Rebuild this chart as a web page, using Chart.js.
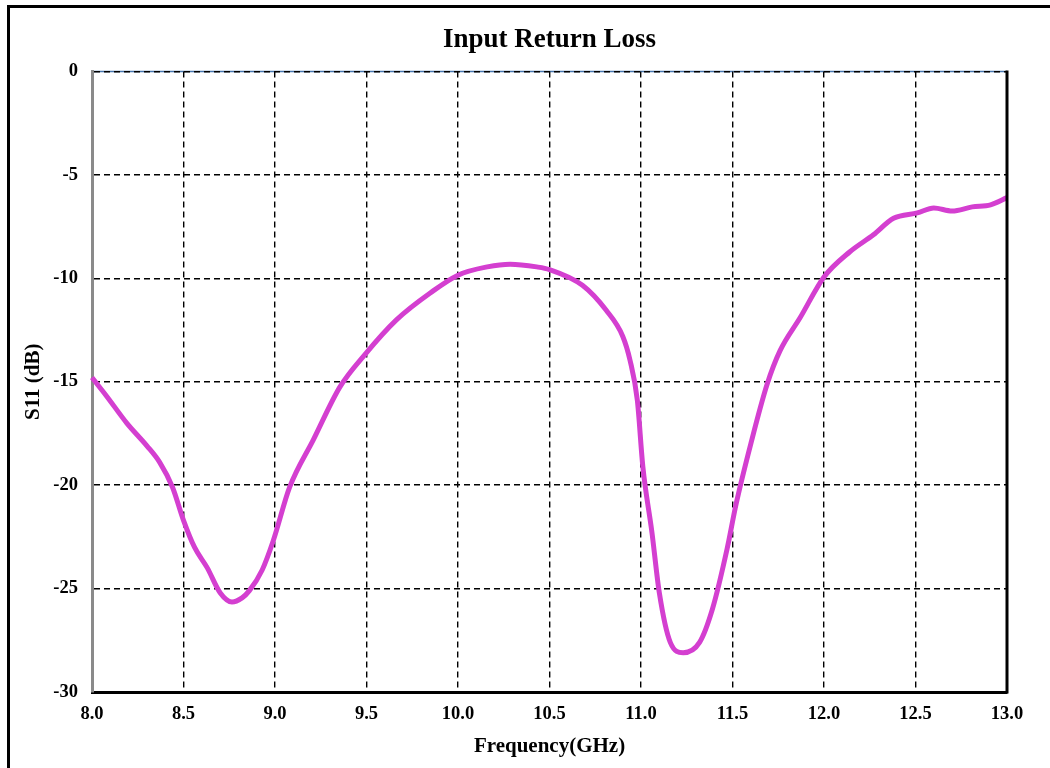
<!DOCTYPE html>
<html>
<head>
<meta charset="utf-8">
<script src="https://cdn.jsdelivr.net/npm/chart.js@4/dist/chart.umd.min.js"></script>
<style>
  html, body { margin: 0; padding: 0; background: #fff; overflow: hidden; }
  #wrap { position: relative; width: 1050px; height: 768px; }
  #frame { position: absolute; left: 7px; top: 5px; width: 1100px; height: 800px;
           border-left: 3px solid #000; border-top: 3px solid #000; pointer-events: none; }
</style>
</head>
<body>
<div id="wrap">
  <canvas id="chart-s11"></canvas>
  <div id="frame"></div>
</div>
<script>
// Input return loss
const freqGHz = [8.0, 8.08, 8.19, 8.3, 8.37, 8.44, 8.5, 8.56, 8.63, 8.7, 8.765, 8.82, 8.86, 8.93, 8.99,
  9.08, 9.21, 9.355, 9.49, 9.665, 9.85, 10.0, 10.16, 10.285, 10.43, 10.5, 10.68, 10.81, 10.9, 10.94,
  10.98, 11.01, 11.06, 11.1, 11.16, 11.23, 11.32, 11.39, 11.47, 11.52, 11.6, 11.69, 11.76, 11.87,
  12.0, 12.14, 12.27, 12.38, 12.51, 12.6, 12.7, 12.81, 12.91, 13.0];
const s11dB = [-14.8, -15.7, -17.0, -18.1, -18.9, -20.1, -21.7, -23.0, -24.0, -25.2, -25.65, -25.45, -25.1, -24.1, -22.7,
  -20.1, -17.8, -15.25, -13.7, -12.0, -10.7, -9.85, -9.45, -9.32, -9.45, -9.58, -10.34, -11.55, -12.8, -13.96,
  -15.9, -19.1, -22.3, -25.2, -27.6, -28.1, -27.6, -26.0, -23.1, -20.9, -18.0, -15.1, -13.5, -11.9,
  -9.94, -8.73, -7.9, -7.1, -6.84, -6.6, -6.75, -6.55, -6.45, -6.1];

const xTicks = [8.0, 8.5, 9.0, 9.5, 10.0, 10.5, 11.0, 11.5, 12.0, 12.5, 13.0];
const yTicks = [0, -5, -10, -15, -20, -25, -30];

const serif = '"Liberation Serif", "Times New Roman", serif';

// frame lines: blue under the top grid line, black on the right
const plotFrame = {
  id: 'plotFrame',
  beforeDraw(chart) {
    const { ctx, chartArea: a } = chart;
    ctx.save();
    ctx.strokeStyle = '#4a78b0';
    ctx.lineWidth = 1.5;
    ctx.beginPath(); ctx.moveTo(a.left, a.top); ctx.lineTo(a.right, a.top); ctx.stroke();
    ctx.restore();
  },
  afterDraw(chart) {
    const { ctx, chartArea: a } = chart;
    ctx.save();
    ctx.strokeStyle = '#000';
    ctx.lineWidth = 3;
    ctx.beginPath(); ctx.moveTo(a.right, a.top - 1); ctx.lineTo(a.right, a.bottom + 1.5); ctx.stroke();
    ctx.restore();
  }
};

const ctx = document.getElementById('chart-s11').getContext('2d');
new Chart(ctx, {
  type: 'scatter',
  data: {
    datasets: [{
      label: 'S11',
      data: freqGHz.map((f, i) => ({ x: f, y: s11dB[i] })),
      showLine: true,
      borderColor: '#d43fd0',
      borderWidth: 5,
      pointRadius: 0,
      cubicInterpolationMode: 'monotone',
      clip: false
    }]
  },
  options: {
    responsive: true,
    maintainAspectRatio: false,
    animation: false,
    layout: { padding: { left: 0, right: 43, top: 0, bottom: 0 } },
    plugins: {
      legend: { display: false },
      tooltip: { enabled: false },
      title: {
        display: true, text: 'Input Return Loss', color: '#000', fullSize: false,
        font: { family: serif, size: 27, weight: 'bold' },
        padding: { top: 24, bottom: 15 }
      }
    },
    scales: {
      x: {
        type: 'linear', min: 8, max: 13,
        afterBuildTicks: s => { s.ticks = xTicks.map(v => ({ value: v })); },
        afterFit: s => { s.height = 76; },
        ticks: { color: '#000', padding: 11, font: { family: serif, size: 18.5, weight: 'bold' },
                 callback: v => v.toFixed(1), maxRotation: 0 },
        grid: { color: '#000', lineWidth: 1.4, drawTicks: false },
        border: { color: '#000', width: 3, dash: [6, 4] },
        title: { display: true, text: 'Frequency(GHz)', color: '#000',
                 font: { family: serif, size: 21, weight: 'bold' }, padding: { top: 0, bottom: 9 } }
      },
      y: {
        type: 'linear', min: -30, max: 0,
        afterBuildTicks: s => { s.ticks = yTicks.map(v => ({ value: v })); },
        afterFit: s => { s.width = 92; },
        ticks: { color: '#000', padding: 14, font: { family: serif, size: 18.5, weight: 'bold' } },
        grid: { color: '#000', lineWidth: 1.4, drawTicks: false },
        border: { color: '#8a8a8a', width: 3, dash: [6, 4] },
        title: { display: true, text: 'S11 (dB)', color: '#000',
                 font: { family: serif, size: 21, weight: 'bold' }, padding: { top: 21, bottom: 0 } }
      }
    }
  },
  plugins: [plotFrame]
});
</script>
</body>
</html>
